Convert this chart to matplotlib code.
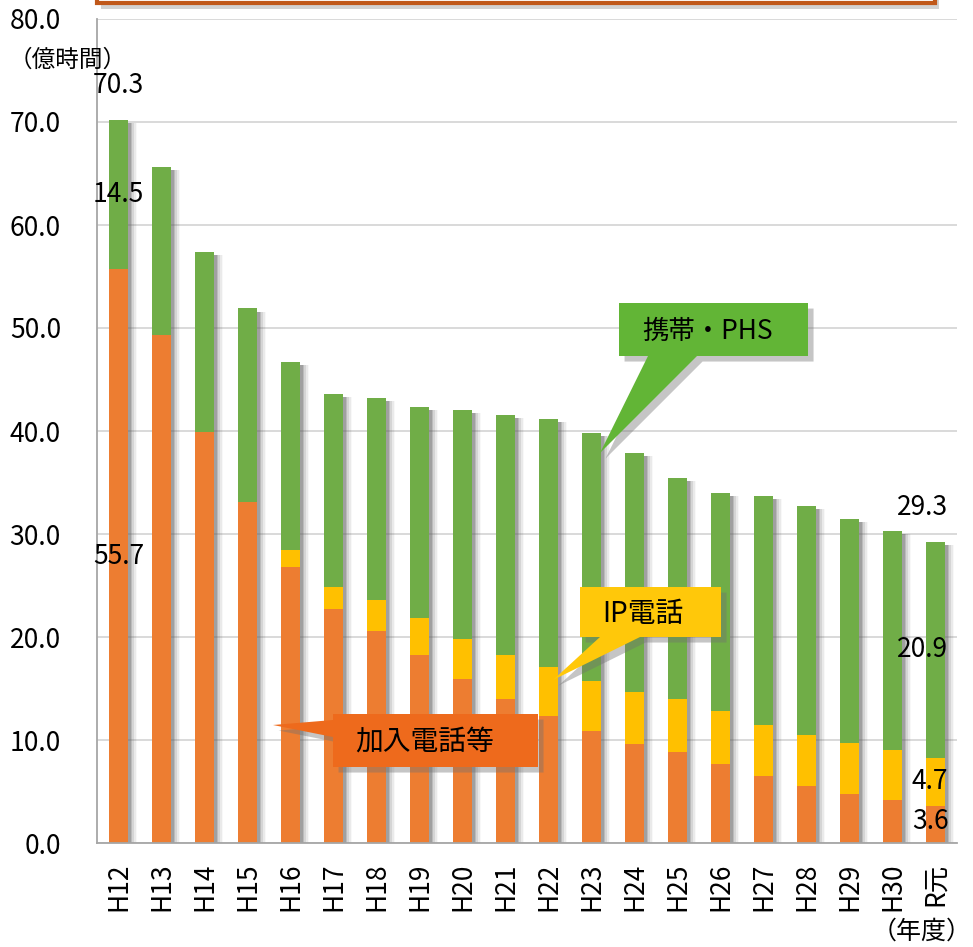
import matplotlib
matplotlib.use("Agg")
import matplotlib.pyplot as plt
import matplotlib.patheffects as pe
from matplotlib.patches import Polygon, Rectangle
from matplotlib.transforms import Affine2D
import numpy as np

plt.rcParams["font.family"] = ["Noto Sans CJK JP", "DejaVu Sans"]

years = ["H12", "H13", "H14", "H15", "H16", "H17", "H18", "H19", "H20", "H21",
         "H22", "H23", "H24", "H25", "H26", "H27", "H28", "H29", "H30", "R元"]
fixed = [55.7, 49.3, 39.9, 33.1, 26.8, 22.7, 20.6, 18.3, 15.9, 14.0,
         12.3, 10.9, 9.6, 8.8, 7.7, 6.5, 5.5, 4.8, 4.2, 3.6]
ip = [0.0, 0.0, 0.0, 0.0, 1.6, 2.2, 3.0, 3.5, 3.9, 4.3,
      4.8, 4.8, 5.1, 5.2, 5.1, 5.0, 5.0, 4.9, 4.8, 4.7]
mobile = [14.5, 16.3, 17.5, 18.8, 18.3, 18.7, 19.6, 20.5, 22.2, 23.3,
          24.1, 24.1, 23.2, 21.4, 21.2, 22.2, 22.2, 21.8, 21.3, 20.9]
totals = {0: 70.3, 19: 29.3}  # labelled totals

C_FIXED = "#ED7D31"
C_IP = "#FFC000"
C_MOB = "#70AD47"

W, H = 973, 947
fig = plt.figure(figsize=(W / 100, H / 100), dpi=100)
ax = fig.add_axes([97 / W, 1 - 843 / H, 860 / W, 824 / H])

x = np.arange(len(years))
fixed_a = np.array(fixed)
ip_a = np.array(ip)
mob_a = np.array(mobile)
tot_a = fixed_a + ip_a + mob_a

bw = 0.46
# soft drop shadow behind each bar
for dx, a in ((0.05, 0.28), (0.09, 0.22), (0.13, 0.15), (0.17, 0.09), (0.21, 0.04)):
    ax.bar(x + dx, tot_a - 0.3, bw, bottom=0, color="#606060", alpha=a, lw=0, zorder=2)
ax.bar(x, fixed_a, bw, color=C_FIXED, zorder=3)
ax.bar(x, ip_a, bw, bottom=fixed_a, color=C_IP, zorder=3)
ax.bar(x, mob_a, bw, bottom=fixed_a + ip_a, color=C_MOB, zorder=3)

ax.set_xlim(-0.5, len(years) - 0.5)
ax.set_ylim(0, 80)
ax.set_yticks(np.arange(0, 81, 10))
ax.set_yticklabels([f"{v:.1f}" for v in np.arange(0, 81, 10)], fontsize=19)
ax.set_xticks(x)
ax.set_xticklabels(years, rotation=90, fontsize=19)
ax.tick_params(axis="y", length=0, pad=26)
ax.tick_params(axis="x", length=0, pad=14)
ax.grid(axis="y", color="#D9D9D9", lw=1.4, zorder=0)
for s in ("top", "right"):
    ax.spines[s].set_visible(False)
for s in ("left", "bottom"):
    ax.spines[s].set_color("#A6A6A6")
    ax.spines[s].set_linewidth(1.3)
    ax.spines[s].set_zorder(4)

# data labels on first and last bars
fs = 19
i0 = 0
ax.text(i0, totals[i0] + 3.2, f"{totals[i0]:.1f}", ha="center", va="center", fontsize=fs, zorder=5)
ax.text(i0, fixed_a[i0] + ip_a[i0] + mob_a[i0] / 2, f"{mob_a[i0]:.1f}", ha="center", va="center", fontsize=fs, zorder=5)
ax.text(i0, fixed_a[i0] / 2, f"{fixed_a[i0]:.1f}", ha="center", va="center", fontsize=fs, zorder=5)
il = len(years) - 1
xr = il + 0.3
ax.text(xr, totals[il] + 3.3, f"{totals[il]:.1f}", ha="right", va="center", fontsize=fs, zorder=5)
ax.text(xr, fixed_a[il] + ip_a[il] + mob_a[il] / 2, f"{mob_a[il]:.1f}", ha="right", va="center", fontsize=fs, zorder=5)
ax.text(xr, fixed_a[il] + ip_a[il] / 2, f"{ip_a[il]:.1f}", ha="right", va="center", fontsize=fs, zorder=5)
ax.text(xr, fixed_a[il] / 2 + 0.3, f"{fixed_a[il]:.1f}", ha="right", va="center", fontsize=fs, zorder=5)

# pixel transform (top-left origin)
px = Affine2D().scale(1, -1).translate(0, H)

fig.text(68 / W, 1 - 60 / H, "（億時間）", ha="center", va="center", fontsize=17)
fig.text(922 / W, 1 - 932 / H, "（年度）", ha="center", va="center", fontsize=18)

# top frame partially visible
top = Rectangle((97, -60), 838, 63, transform=px, facecolor="white",
                edgecolor="#C0581A", lw=3, zorder=10)
top.set_path_effects([pe.SimplePatchShadow(offset=(3, -4), shadow_rgbFace="#909090", alpha=0.4), pe.Normal()])
fig.add_artist(top)


def callout(pts, face, text, tx, ty, size):
    poly = Polygon(pts, closed=True, transform=px, facecolor=face, edgecolor="none", zorder=10)
    poly.set_path_effects([pe.SimplePatchShadow(offset=(4, -4), shadow_rgbFace="#707070", alpha=0.4),
                           pe.Normal()])
    fig.add_artist(poly)
    fig.text(tx / W, 1 - ty / H, text, ha="center", va="center", fontsize=size, zorder=11)


callout([(619, 303), (808, 303), (808, 356), (697, 356), (600, 453), (648, 356), (619, 356)],
        "#62B536", "携帯・PHS", 708, 331, 19)
callout([(580, 587), (721, 587), (721, 637), (640, 637), (553, 680), (600, 637), (580, 637)],
        "#FFC80A", "IP電話", 643, 614, 20)
callout([(333, 714), (538, 714), (538, 767), (333, 767), (333, 737), (273, 725), (333, 720)],
        "#EE6A1C", "加入電話等", 425, 742, 20)

fig.savefig("out.png", dpi=100)
